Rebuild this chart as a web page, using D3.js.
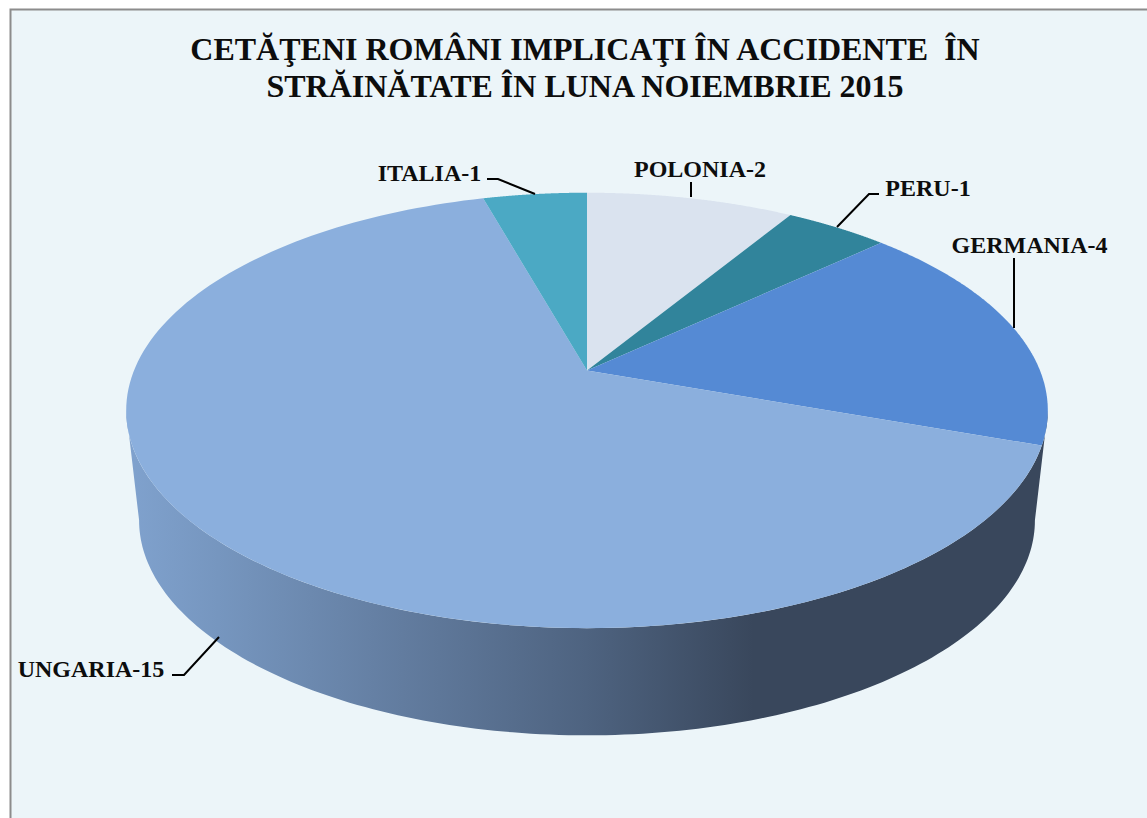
<!DOCTYPE html>
<html><head><meta charset="utf-8">
<script src="https://cdn.jsdelivr.net/npm/d3@7"></script>
<style>html,body{margin:0;padding:0;background:#fff}svg{display:block}</style>
</head><body><svg id="c" width="1147" height="818"></svg>
<script>
const titleLines = ["CETĂŢENI ROMÂNI IMPLICAŢI ÎN ACCIDENTE  ÎN", "STRĂINĂTATE ÎN LUNA NOIEMBRIE 2015"];
const categories = ["POLONIA", "PERU", "GERMANIA", "UNGARIA", "ITALIA"];
const values = [2, 1, 4, 15, 1];
const sliceColors = ["#dae3ef", "#31849b", "#558ad4", "#8bafdd", "#4ba9c4"];

const svg = d3.select("#c");
svg.append("rect").attr("x",10.5).attr("y",9.5).attr("width",1200).attr("height",900)
  .attr("fill","#ecf5f9").attr("stroke","#8c8c8c").attr("stroke-width",2);

// perspective projection of the pie disc
const ax = 587, ay = 370.5, A = 453, B = 210.4, K = -0.1834;
const upper = (t) => { const u=Math.sin(t), v=-Math.cos(t), w=1+K*v; return [ax+A*u/w, ay+B*v/w]; };
// lower rim
const lower = (t) => { const p = upper(t); return [587+(p[0]-587)*0.972, 520+(p[1]-410)*0.987]; };

const line = d3.line();
const angles = d3.pie().sort(null)(values);
const range = (a,b,n=160) => d3.range(n+1).map(i => a+(b-a)*i/n);

// wall
const grad = svg.append("defs").append("linearGradient").attr("id","wall")
  .attr("gradientUnits","userSpaceOnUse").attr("x1",126).attr("x2",1048).attr("y1",0).attr("y2",0);
[[0,"#80a2ce"],[0.1,"#7696bf"],[0.3,"#627c9f"],[0.5,"#4e6380"],[0.68,"#39475c"],[1,"#39475c"]]
  .forEach(d=>grad.append("stop").attr("offset",d[0]).attr("stop-color",d[1]));
const T0 = 1.755, T1 = 2*Math.PI-1.755;
const lowerArc = range(T0, T1).map(lower);
const upperArc = range(T1, T0).map(upper);
svg.append("path").attr("d", line(upperArc.concat(lowerArc))+"Z").attr("fill","url(#wall)");

// top
svg.selectAll("path.s").data(angles).join("path").attr("class","s")
  .attr("fill",(d,i)=>sliceColors[i])
  .attr("d",d=>line([[ax,ay]].concat(range(d.startAngle,d.endAngle).map(upper)))+"Z");

// title
svg.append("g").selectAll("text").data(titleLines).join("text")
  .attr("x",585).attr("y",(d,i)=>60+i*37).attr("text-anchor","middle")
  .attr("font-family","'Liberation Serif'").attr("font-weight","bold").attr("font-size",32)
  .attr("fill","#0d0d0d").style("white-space","pre").text(d=>d);

// labels
const labelPos = [[700,177],[928,196],[1029.5,253],[91,677],[429.5,181]];
svg.append("g").selectAll("text").data(categories).join("text")
  .attr("x",(d,i)=>labelPos[i][0]).attr("y",(d,i)=>labelPos[i][1]).attr("text-anchor","middle")
  .attr("font-family","'Liberation Serif'").attr("font-weight","bold").attr("font-size",24)
  .attr("fill","#0d0d0d").text((d,i)=>d+"-"+values[i]);

const leaders = [
  [[691,182],[691,197]],
  [[879,194],[869,194],[837,227]],
  [[1014,258],[1014,328]],
  [[172,675],[184,675],[219,637]],
  [[487,179],[498,179],[535,194]]
];
svg.append("g").selectAll("path").data(leaders).join("path")
  .attr("d",d=>line(d)).attr("fill","none").attr("stroke","#000").attr("stroke-width",2);
</script></body></html>
